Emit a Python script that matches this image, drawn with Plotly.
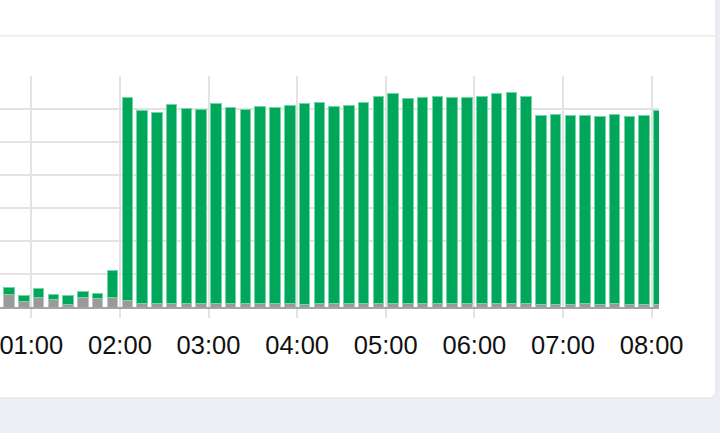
import plotly.graph_objects as go

# 10-minute interval start times
times = [
    "00:40", "00:50", "01:00", "01:10", "01:20", "01:30", "01:40", "01:50",
    "02:00", "02:10", "02:20", "02:30", "02:40", "02:50",
    "03:00", "03:10", "03:20", "03:30", "03:40", "03:50",
    "04:00", "04:10", "04:20", "04:30", "04:40", "04:50",
    "05:00", "05:10", "05:20", "05:30", "05:40", "05:50",
    "06:00", "06:10", "06:20", "06:30", "06:40", "06:50",
    "07:00", "07:10", "07:20", "07:30", "07:40", "07:50",
    "08:00",
]
gray_values = [
    3.75, 1.8, 2.8, 2.2, 0.8, 2.9, 2.6, 2.9,
    1.9, 1.0, 1.0, 1.1, 1.0, 1.0,
    1.1, 1.0, 1.0, 1.1, 1.0, 1.0,
    0.9, 1.0, 1.0, 1.0, 1.0, 1.0,
    1.1, 1.1, 1.0, 1.0, 1.0, 1.0,
    1.1, 1.1, 1.1, 1.0, 0.9, 0.9,
    0.9, 1.0, 0.9, 1.0, 0.9, 0.8,
    0.9,
]
green_values = [
    2.25, 1.8, 2.8, 1.55, 2.55, 1.65, 1.55, 8.1,
    61.5, 58.6, 57.9, 60.2, 59.2, 58.9,
    60.5, 59.5, 58.9, 59.6, 59.4, 60.0,
    60.7, 60.9, 59.8, 60.2, 61.1, 62.9,
    63.7, 62.1, 62.4, 62.7, 62.5, 62.5,
    62.7, 63.7, 63.9, 62.9, 57.2, 57.5,
    57.1, 57.1, 56.9, 57.3, 56.7, 57.1,
    58.7,
]
tick_values = ["01:00", "02:00", "03:00", "04:00", "05:00", "06:00", "07:00", "08:00"]

day = "2024-01-01 "
x = [day + t for t in times]

fig = go.Figure()
fig.add_trace(go.Bar(
    x=x, y=gray_values, xperiod=600000, xperiodalignment="middle",
    marker=dict(color="#9a9a9a", line=dict(color="#c4c4c4", width=1)),
    hoverinfo="skip",
))
fig.add_trace(go.Bar(
    x=x, y=green_values, xperiod=600000, xperiodalignment="middle",
    marker=dict(color="#00a65a", line=dict(color="#74d6a4", width=1)),
    hoverinfo="skip",
))

grid = "#e3e3e3"
fig.update_layout(
    width=720, height=433,
    margin=dict(l=0, r=61, t=76, b=126, pad=0, autoexpand=False),
    barmode="stack", bargap=0.29,
    showlegend=False,
    paper_bgcolor="#ebeef3",
    plot_bgcolor="#ffffff",
    font=dict(family="Liberation Sans, Arial, sans-serif", size=25.5, color="#111111"),
    xaxis=dict(
        type="date",
        range=[day + "00:38:49", day + "08:05"],
        tickvals=[day + t for t in tick_values],
        ticktext=tick_values,
        showgrid=True, gridcolor=grid, gridwidth=2,
        ticks="outside", ticklen=9, tickwidth=2, tickcolor=grid,
        showline=True, linecolor="#a3a3a3", linewidth=2,
        tickfont=dict(size=25.5, color="#111111"),
        ticklabelstandoff=5,
        ticklabeloverflow="allow",
        automargin=False,
        fixedrange=True,
    ),
    yaxis=dict(
        range=[0, 70], dtick=10, tick0=0,
        showgrid=True, gridcolor=grid, gridwidth=2,
        showticklabels=False, zeroline=False, ticks="",
        automargin=False,
        fixedrange=True,
    ),
)

# card background (white panel with rounded bottom-right corner)
rx, ry = 8 / 659, 8 / 231
right, bottom = 716 / 659, (307 - 398) / 231
card_path = (
    f"M -0.1,1.5 L {right},1.5 L {right},{bottom + ry} "
    f"Q {right},{bottom} {right - rx},{bottom} L -0.1,{bottom} Z"
)
fig.add_shape(type="path", path=card_path, xref="paper", yref="paper",
              fillcolor="#ffffff", line=dict(color="#dde1e7", width=1), layer="below")
sep_y = (307 - 35.7) / 231
fig.add_shape(type="line", xref="paper", yref="paper", x0=-0.1, x1=right,
              y0=sep_y, y1=sep_y, line=dict(color="#eeeeee", width=2), layer="below")

fig.write_html(
    "out.html",
    config={"displayModeBar": False, "staticPlot": True},
    post_script="document.body.style.margin='0';document.body.style.overflow='hidden';",
)
